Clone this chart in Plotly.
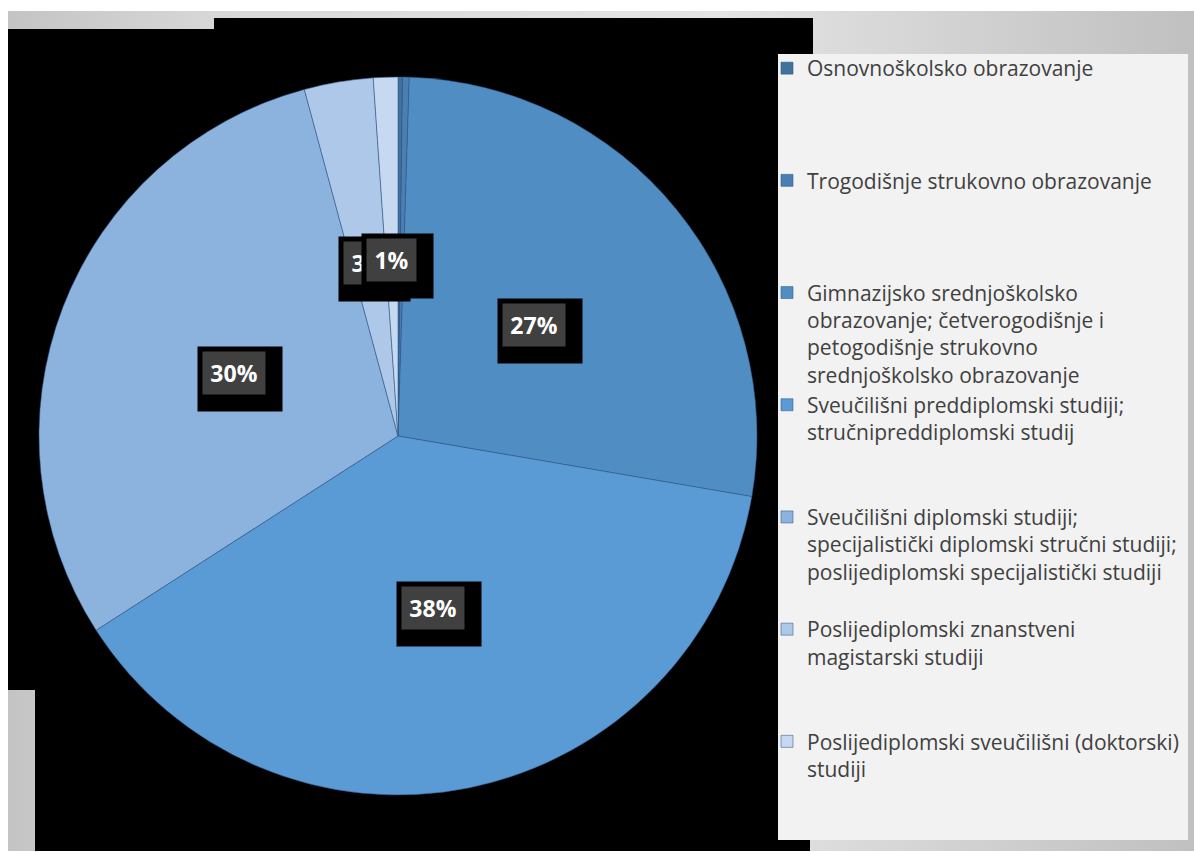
import numpy as np
import plotly.graph_objects as go

# ---------------- data ----------------
categories = [
    "Osnovnoškolsko obrazovanje",
    "Trogodišnje strukovno obrazovanje",
    "Gimnazijsko srednjoškolsko<br>obrazovanje; četverogodišnje i<br>petogodišnje strukovno<br>srednjoškolsko obrazovanje",
    "Sveučilišni preddiplomski studiji;<br>stručnipreddiplomski studij",
    "Sveučilišni diplomski studiji;<br>specijalistički diplomski stručni studiji;<br>poslijediplomski specijalistički studiji",
    "Poslijediplomski znanstveni<br>magistarski studiji",
    "Poslijediplomski sveučilišni (doktorski)<br>studiji",
]
values = [0.2, 0.3, 27.2, 38.2, 29.9, 3.1, 1.1]
colors = ["#41719c", "#4a7fb3", "#508dc3", "#5b9bd5", "#8cb3de", "#adc8e9", "#c7d9f0"]

# ---------------- geometry / style ----------------
W, H = 1194, 852
CX, CY, R = 398, 436, 359
LABEL_R = 0.49

fig = go.Figure()

# grey frame with gradient
fig.add_trace(go.Scatter(
    x=[8, 1194, 1194, 8, 8], y=[11, 11, 851, 851, 11],
    mode="lines", line=dict(width=0), fill="toself",
    fillgradient=dict(type="horizontal",
                      colorscale=[[0, "#c4c4c4"], [0.18, "#d8d8d8"], [0.6, "#e4e4e4"], [1, "#c0c0c0"]]),
    hoverinfo="skip", showlegend=False))

# black area
fig.add_trace(go.Scatter(
    x=[8, 214, 214, 813, 813, 778, 778, 810, 810, 35, 35, 8, 8],
    y=[29, 29, 18, 18, 54, 54, 840, 840, 851, 851, 690, 690, 29],
    mode="lines", line=dict(width=0), fill="toself", fillcolor="#000000",
    hoverinfo="skip", showlegend=False))

# legend panel
fig.add_trace(go.Scatter(
    x=[778, 1188, 1188, 778, 778], y=[54, 54, 840, 840, 54],
    mode="lines", line=dict(width=0), fill="toself", fillcolor="#f2f2f2",
    hoverinfo="skip", showlegend=False))

# legend labels padded to equal height (4 lines)
legend_labels = []
for c in categories:
    n = c.count("<br>") + 1
    legend_labels.append(c + "<br>\u00a0" * (4 - n))

fig.add_trace(go.Pie(
    labels=legend_labels, values=values, sort=False, direction="clockwise", rotation=0,
    marker=dict(colors=colors, line=dict(color="rgba(50,90,140,0.55)", width=1)),
    textinfo="none", hoverinfo="label+percent",
    domain=dict(x=[(CX - R) / W, (CX + R) / W], y=[1 - (CY + R) / H, 1 - (CY - R) / H]),
))

# data labels
total = float(np.sum(values))
cum = np.cumsum([0] + values[:-1])
annotations = []
for v, c0 in zip(values, cum):
    pct = round(v / total * 100)
    if pct < 1:
        continue
    theta = 2 * np.pi * (c0 + v / 2) / total
    lx = CX + LABEL_R * R * np.sin(theta)
    ly = CY - LABEL_R * R * np.cos(theta)
    txt = f"{pct}%"
    bw = 13 * len(txt) + 9
    bh = 28
    annotations.append(dict(x=lx, y=ly, xref="x", yref="y", text=" ", showarrow=False,
                            width=bw + 22, height=bh + 22,
                            bgcolor="#000000", borderpad=7, xshift=6, yshift=-6))
    annotations.append(dict(x=lx, y=ly, xref="x", yref="y", text=txt, showarrow=False,
                            width=bw, height=bh,
                            font=dict(family="Open Sans", size=23, color="#ffffff", weight="bold"),
                            bgcolor="#404040", borderpad=7))

fig.update_layout(
    width=W, height=H, margin=dict(l=0, r=0, t=0, b=0),
    paper_bgcolor="#ffffff", plot_bgcolor="#ffffff",
    xaxis=dict(range=[0, W], visible=False, fixedrange=True, domain=[0, 1]),
    yaxis=dict(range=[H, 0], visible=False, fixedrange=True, domain=[0, 1]),
    showlegend=True,
    legend=dict(x=767 / W, y=1 - 48 / H, xanchor="left", yanchor="top",
                bgcolor="rgba(0,0,0,0)", valign="top", traceorder="normal",
                font=dict(family="Open Sans", size=21, color="#404040")),
    annotations=annotations,
)

fig.write_html("out.html", config={"displayModeBar": False},
               post_script="document.body.style.margin='0';document.body.style.padding='0';")
